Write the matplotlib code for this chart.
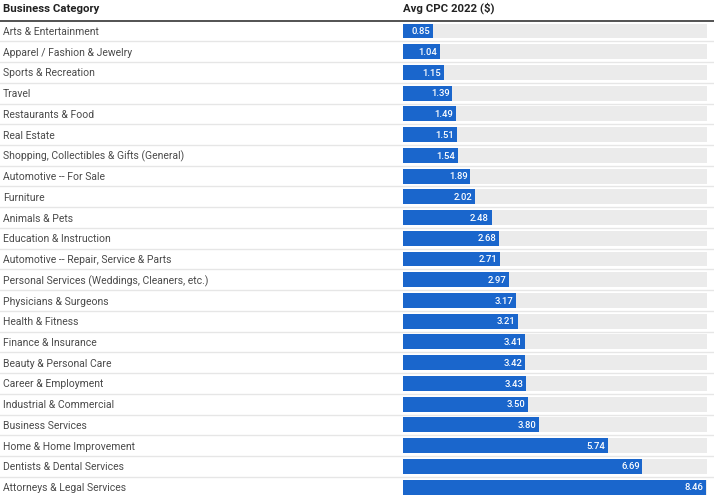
import matplotlib
matplotlib.use("Agg")
import matplotlib.pyplot as plt

categories = [
    "Arts & Entertainment",
    "Apparel / Fashion & Jewelry",
    "Sports & Recreation",
    "Travel",
    "Restaurants & Food",
    "Real Estate",
    "Shopping, Collectibles & Gifts (General)",
    "Automotive -- For Sale",
    "Furniture",
    "Animals & Pets",
    "Education & Instruction",
    "Automotive -- Repair, Service & Parts",
    "Personal Services (Weddings, Cleaners, etc.)",
    "Physicians & Surgeons",
    "Health & Fitness",
    "Finance & Insurance",
    "Beauty & Personal Care",
    "Career & Employment",
    "Industrial & Commercial",
    "Business Services",
    "Home & Home Improvement",
    "Dentists & Dental Services",
    "Attorneys & Legal Services",
]
avg_cpc = [0.85, 1.04, 1.15, 1.39, 1.49, 1.51, 1.54, 1.89, 2.02, 2.48, 2.68, 2.71,
           2.97, 3.17, 3.21, 3.41, 3.42, 3.43, 3.50, 3.80, 5.74, 6.69, 8.46]
col_headers = ["Business Category", "Avg CPC 2022 ($)"]

plt.rcParams["font.family"] = ["Roboto", "DejaVu Sans"]

W, H = 714, 500
fig = plt.figure(figsize=(W / 100, H / 100), dpi=100)

row_h = 20.73
first_center = 31.0
n = len(categories)
ytop = -first_center / row_h
ybot = (H - first_center) / row_h

# full-width axes for text and lines
ax = fig.add_axes([0, 0, 1, 1])
ax.set_xlim(0, W)
ax.set_ylim(ybot, ytop)
ax.axis("off")

text_color = "#4a4a4a"
for i, c in enumerate(categories):
    ax.text(3, i + 0.05, c, ha="left", va="center", fontsize=7.45, color=text_color)
    if i < n - 1:
        ax.axhline(i + 0.5, color="#e6e6e6", lw=1.0, zorder=0)

header_y = (8.5 - first_center) / row_h
ax.text(3, header_y, col_headers[0], ha="left", va="center", fontsize=8.2,
        fontweight="bold", color="#222222")
ax.text(403, header_y, col_headers[1], ha="left", va="center", fontsize=8.2,
        fontweight="bold", color="#222222")
ax.axhline((21 - first_center) / row_h, color="#444444", lw=1.3)

# bar axes
x0, x1 = 402.7, 706.8
bax = fig.add_axes([x0 / W, 0, (x1 - x0) / W, 1])
bax.set_ylim(ybot, ytop)
xmax = 8.49
bax.set_xlim(0, xmax)
bax.axis("off")
ys = list(range(n))
bh = 0.72
bax.barh(ys, [xmax] * n, height=bh, color="#ebebeb", zorder=1)
bax.barh(ys, avg_cpc, height=bh, color="#1a66cc", zorder=2)
for y, v in zip(ys, avg_cpc):
    bax.text(v - 0.07, y + 0.03, f"{v:.2f}", ha="right", va="center", fontsize=6.8,
             color="white", fontweight="medium", zorder=3)

fig.savefig("out.png", dpi=100)
